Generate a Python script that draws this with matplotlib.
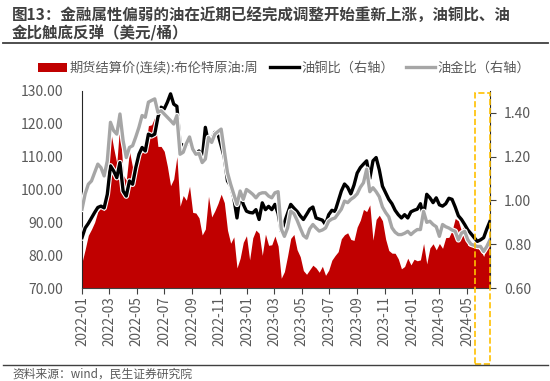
import numpy as np
import pandas as pd
import matplotlib
matplotlib.use('Agg')
import matplotlib.pyplot as plt
import matplotlib.dates as mdates
import matplotlib.patheffects as pe
from matplotlib.lines import Line2D
from matplotlib.patches import Rectangle, Patch
from matplotlib.ticker import FormatStrFormatter

plt.rcParams['font.family'] = ['Noto Sans CJK SC', 'DejaVu Sans']

# 周度数据 (2021-12-31 ~ 2024-06-21)
datas = pd.date_range('2021-12-31', periods=130, freq='7D')

# 布伦特原油期货结算价 (美元/桶)
brent = [77.78,
         81.75, 86.06, 87.89, 90.03, 93.27, 94.44, 93.54, 97.93, 118.11, 112.67,
         107.93, 120.65, 104.39, 102.78, 111.70, 106.65, 109.34, 112.39, 111.55, 112.55,
         119.43, 119.72, 122.01, 113.12, 113.12, 111.63, 107.02, 101.16, 103.20, 110.01,
         94.92, 98.15, 96.72, 100.99, 93.02, 92.84, 91.35, 86.15, 87.96, 97.92,
         91.63, 93.50, 95.77, 98.57, 95.99, 87.62, 83.63, 85.57, 76.10, 79.04,
         83.92, 85.91,
         78.57, 85.28, 87.63, 86.66, 79.94, 86.39, 83.00, 83.16, 85.83, 82.78,
         72.97, 74.99, 79.77, 85.12, 86.31, 81.66, 79.54, 75.30, 74.17, 75.58,
         76.95, 76.13, 74.79, 76.61, 73.85, 75.41, 78.47, 79.87, 81.07, 84.99,
         86.24, 86.81, 84.80, 84.48, 88.55, 90.65, 93.93, 93.27, 95.31, 84.58,
         90.89, 92.16, 90.48, 84.89, 81.43, 80.61, 80.58, 78.88, 75.84, 76.55,
         79.07, 77.04,
         78.76, 78.29, 78.56, 83.55, 77.33, 82.19, 83.47, 81.62, 83.55, 82.08,
         85.34, 85.43, 87.48, 91.17, 90.45, 87.29, 89.50, 82.96, 82.79, 83.98,
         82.12, 81.62, 79.62, 82.62, 85.24]

# 油铜比 (右轴)
oil_cobre = [0.83, 0.874, 0.895, 0.92, 0.945, 0.968, 0.974, 0.966, 1.028, 1.158,
             1.135, 1.104, 1.173, 1.043, 1.02, 1.089, 1.074, 1.15, 1.211, 1.242,
             1.226, 1.303, 1.295, 1.303, 1.38, 1.426, 1.418, 1.449, 1.487, 1.44,
             1.43, 1.26, 1.251, 1.25, 1.29, 1.234, 1.211, 1.226, 1.189, 1.334,
             1.26, 1.28, 1.311, 1.303, 1.25, 1.196, 1.089, 1.066, 1.012, 0.92,
             1.028, 0.982, 0.951, 0.945, 0.943, 0.958, 0.913, 0.989, 0.958, 0.973,
             0.958, 0.982, 0.94, 0.859, 0.90, 0.94, 0.982, 0.965, 0.95, 0.93,
             0.913, 0.936, 0.96, 0.97, 0.92, 0.915, 0.91, 0.89, 0.935, 0.955,
             0.95, 0.997, 1.043, 1.075, 1.06, 1.03, 1.07, 1.125, 1.15, 1.166,
             1.181, 1.10, 1.181, 1.196, 1.14, 1.065, 1.035, 1.005, 0.985, 0.955,
             0.935, 0.92, 0.935, 0.92, 0.948, 0.955, 0.96, 0.985, 0.93, 1.028,
             1.012, 0.99, 1.012, 0.98, 0.974, 0.985, 1.01, 1.005, 0.97, 0.93,
             0.913, 0.89, 0.865, 0.848, 0.83, 0.813, 0.82, 0.83, 0.87, 0.905]

# 油金比 (右轴)
oil_ouro = [0.96, 1.03, 1.074, 1.089, 1.127, 1.166, 1.15, 1.112, 1.181, 1.357,
            1.319, 1.303, 1.395, 1.273, 1.196, 1.242, 1.25, 1.29, 1.334, 1.388,
            1.38, 1.449, 1.457, 1.464, 1.403, 1.41, 1.395, 1.38, 1.365, 1.349,
            1.388, 1.211, 1.22, 1.26, 1.29, 1.235, 1.211, 1.215, 1.173, 1.189,
            1.288, 1.265, 1.303, 1.315, 1.326, 1.226, 1.127, 1.074, 1.028, 0.982,
            1.043, 1.005, 1.05, 1.04, 1.028, 1.012, 1.03, 1.035, 1.035, 1.02,
            1.012, 1.035, 1.04, 0.87, 0.836, 0.874, 0.951, 0.94, 0.91, 0.874,
            0.84, 0.828, 0.87, 0.89, 0.874, 0.86, 0.865, 0.874, 0.905, 0.915,
            0.92, 0.94, 0.96, 0.997, 0.99, 1.005, 1.015, 1.03, 1.06, 1.081,
            1.143, 1.04, 1.058, 1.04, 1.017, 0.97, 0.945, 0.925, 0.875, 0.855,
            0.844, 0.844, 0.85, 0.859, 0.844, 0.857, 0.867, 0.867, 0.95, 0.90,
            0.905, 0.89, 0.88, 0.836, 0.89, 0.88, 0.874, 0.865, 0.859, 0.82,
            0.851, 0.859, 0.82, 0.80, 0.795, 0.79, 0.79, 0.767, 0.79, 0.82]

titulo1 = '图13：金融属性偏弱的油在近期已经完成调整开始重新上涨，油铜比、油'
titulo2 = '金比触底反弹（美元/桶）'
legendas = ['期货结算价(连续):布伦特原油:周', '油铜比（右轴）', '油金比（右轴）']
fonte = '资料来源：wind，民生证券研究院'

VERMELHO = '#C00000'
CINZA_TXT = '#595959'


def desenhar():
    fig = plt.figure(figsize=(5.5, 3.81), dpi=100)
    W, H = 550.0, 381.0
    ax = fig.add_axes([82 / W, 1 - 288 / H, 408 / W, 197 / H])

    # área do Brent no eixo esquerdo
    ax.fill_between(datas, brent, 70, color=VERMELHO, linewidth=0)
    ax.set_ylim(70, 130)
    ax.set_yticks(np.arange(70, 131, 10))
    ax.yaxis.set_major_formatter(FormatStrFormatter('%.2f'))
    ax.set_xlim(datas[0], datas[-1])
    ax.xaxis.set_major_locator(mdates.MonthLocator(bymonth=[1, 3, 5, 7, 9, 11]))
    ax.xaxis.set_major_formatter(mdates.DateFormatter('%Y-%m'))
    ax.tick_params(axis='x', labelrotation=90, labelsize=9.8, labelcolor=CINZA_TXT,
                   length=4, width=0.8, color='#404040', pad=2)
    ax.tick_params(axis='y', labelsize=10, labelcolor=CINZA_TXT, length=0, pad=13.5)
    ax.spines['top'].set_visible(False)
    ax.spines['right'].set_visible(False)
    ax.spines['left'].set_color('#262626')
    ax.spines['bottom'].set_color('#404040')

    # razões no eixo direito (com contorno branco)
    borda = [pe.Stroke(linewidth=4.0, foreground='white'), pe.Normal()]
    ax2 = ax.twinx()
    ax2.plot(datas, oil_cobre, color='black', lw=2.4, path_effects=borda)
    ax2.plot(datas, oil_ouro, color='#A6A6A6', lw=2.4, path_effects=borda)
    ax2.set_ylim(0.6, 1.5)
    ax2.set_yticks(np.arange(0.6, 1.41, 0.2))
    ax2.yaxis.set_major_formatter(FormatStrFormatter('%.2f'))
    ax2.tick_params(axis='y', labelsize=10, labelcolor=CINZA_TXT, length=4,
                    width=0.8, color='#404040', pad=6)
    ax2.spines['top'].set_visible(False)
    ax2.spines['left'].set_visible(False)
    ax2.spines['bottom'].set_visible(False)
    ax2.spines['right'].set_color('#262626')

    # legenda
    handles = [Patch(facecolor=VERMELHO, edgecolor='none'),
               Line2D([], [], color='black', lw=2.4),
               Line2D([], [], color='#A6A6A6', lw=2.4)]
    fig.legend(handles, legendas, loc='center', bbox_to_anchor=(284 / W, 1 - 68 / H),
               ncol=3, frameon=False, fontsize=9.5, handlelength=2.2,
               handleheight=0.7, handletextpad=0.2, columnspacing=0.9,
               labelcolor=CINZA_TXT)

    # título e fonte
    fig.text(12 / W, 1 - 15 / H, titulo1, ha='left', va='center', fontsize=11.2,
             fontweight='bold', color='#404040')
    fig.text(12 / W, 1 - 33 / H, titulo2, ha='left', va='center', fontsize=11.2,
             fontweight='bold', color='#404040')
    fig.add_artist(Line2D([3 / W, 548 / W], [1 - 43 / H] * 2, color='#404040', lw=1.3))
    fig.add_artist(Line2D([3 / W, 548 / W], [1 - 364.5 / H] * 2, color='#404040', lw=1.0))
    fig.text(12 / W, 1 - 374 / H, fonte, ha='left', va='center', fontsize=8.5,
             color=CINZA_TXT)

    # destaque tracejado amarelo
    fig.add_artist(Rectangle((474.5 / W, 1 - 364 / H), 15.5 / W, 271 / H,
                             transform=fig.transFigure, fill=False,
                             edgecolor='#FFC000', linestyle='--', lw=1.2))

    fig.savefig('out.png', dpi=100)


if __name__ == '__main__':
    desenhar()
